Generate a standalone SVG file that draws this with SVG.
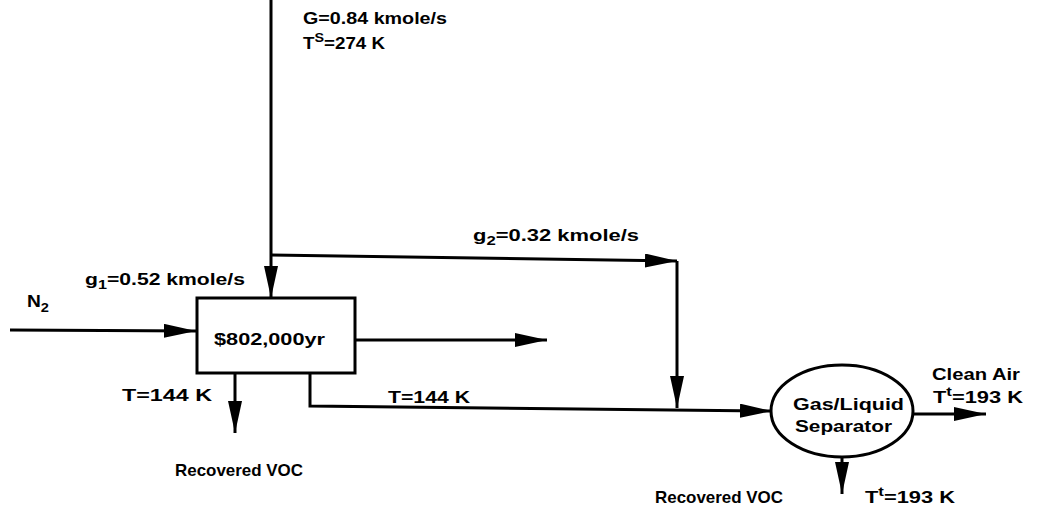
<svg xmlns="http://www.w3.org/2000/svg" width="1039" height="516" viewBox="0 0 1039 516">
<defs>
<marker id="ahl" markerWidth="32" markerHeight="14" refX="32" refY="7" orient="auto" markerUnits="userSpaceOnUse">
<path d="M0,0 L32,7 L0,14 Z" fill="#000"/>
</marker>
<style>
.ln{stroke:#000;stroke-width:3;fill:none}
.t{font-family:"Liberation Sans",Arial,sans-serif;font-weight:bold;font-size:17px;fill:#000}
.sub{font-size:13px}
</style>
</defs>
<rect width="1039" height="516" fill="#fff"/>
<g id="connectors">
<path class="ln" d="M271,0 L271,298" marker-end="url(#ahl)"/>
<path class="ln" d="M271,255 L677,261" marker-end="url(#ahl)"/>
<path class="ln" d="M677,261 L677,408" marker-end="url(#ahl)"/>
<path class="ln" d="M10,330 L196,331" marker-end="url(#ahl)"/>
<path class="ln" d="M355,340 L547,340" marker-end="url(#ahl)"/>
<path class="ln" d="M310,373 L310,406 L772,411" marker-end="url(#ahl)"/>
<path class="ln" d="M235,373 L235,433" marker-end="url(#ahl)"/>
<path class="ln" d="M912,414 L986,414" marker-end="url(#ahl)"/>
<path class="ln" d="M842,457 L842,494" marker-end="url(#ahl)"/>
</g>
<g id="cooler">
<rect x="197" y="298" width="158" height="75" class="ln"/>
<text class="t" x="214" y="345" textLength="111" lengthAdjust="spacingAndGlyphs">$802,000yr</text>
</g>
<g id="separator">
<ellipse cx="842" cy="411" rx="71" ry="46" class="ln"/>
<text class="t" x="793" y="410" textLength="111" lengthAdjust="spacingAndGlyphs">Gas/Liquid</text>
<text class="t" x="795" y="432" textLength="97" lengthAdjust="spacingAndGlyphs">Separator</text>
</g>
<g id="labels">
<text class="t" x="303" y="24" textLength="144" lengthAdjust="spacingAndGlyphs">G=0.84 kmole/s</text>
<text class="t" x="303" y="49" textLength="82" lengthAdjust="spacingAndGlyphs">T<tspan class="sub" dy="-7">S</tspan><tspan dy="7">=274 K</tspan></text>
<text class="t" x="473" y="241" textLength="166" lengthAdjust="spacingAndGlyphs">g<tspan class="sub" dy="4">2</tspan><tspan dy="-4">=0.32 kmole/s</tspan></text>
<text class="t" x="85" y="285" textLength="160" lengthAdjust="spacingAndGlyphs">g<tspan class="sub" dy="4">1</tspan><tspan dy="-4">=0.52 kmole/s</tspan></text>
<text class="t" x="27" y="307" textLength="22" lengthAdjust="spacingAndGlyphs">N<tspan class="sub" dy="5">2</tspan></text>
<text class="t" x="122" y="401" textLength="90" lengthAdjust="spacingAndGlyphs">T=144 K</text>
<text class="t" x="388" y="403" textLength="82" lengthAdjust="spacingAndGlyphs">T=144 K</text>
<text class="t" x="175" y="476" textLength="128" lengthAdjust="spacingAndGlyphs">Recovered VOC</text>
<text class="t" x="655" y="503" textLength="128" lengthAdjust="spacingAndGlyphs">Recovered VOC</text>
<text class="t" x="932" y="380" textLength="88" lengthAdjust="spacingAndGlyphs">Clean Air</text>
<text class="t" x="933" y="403" textLength="90" lengthAdjust="spacingAndGlyphs">T<tspan class="sub" dy="-7">t</tspan><tspan dy="7">=193 K</tspan></text>
<text class="t" x="865" y="503" textLength="90" lengthAdjust="spacingAndGlyphs">T<tspan class="sub" dy="-7">t</tspan><tspan dy="7">=193 K</tspan></text>
</g>
</svg>
